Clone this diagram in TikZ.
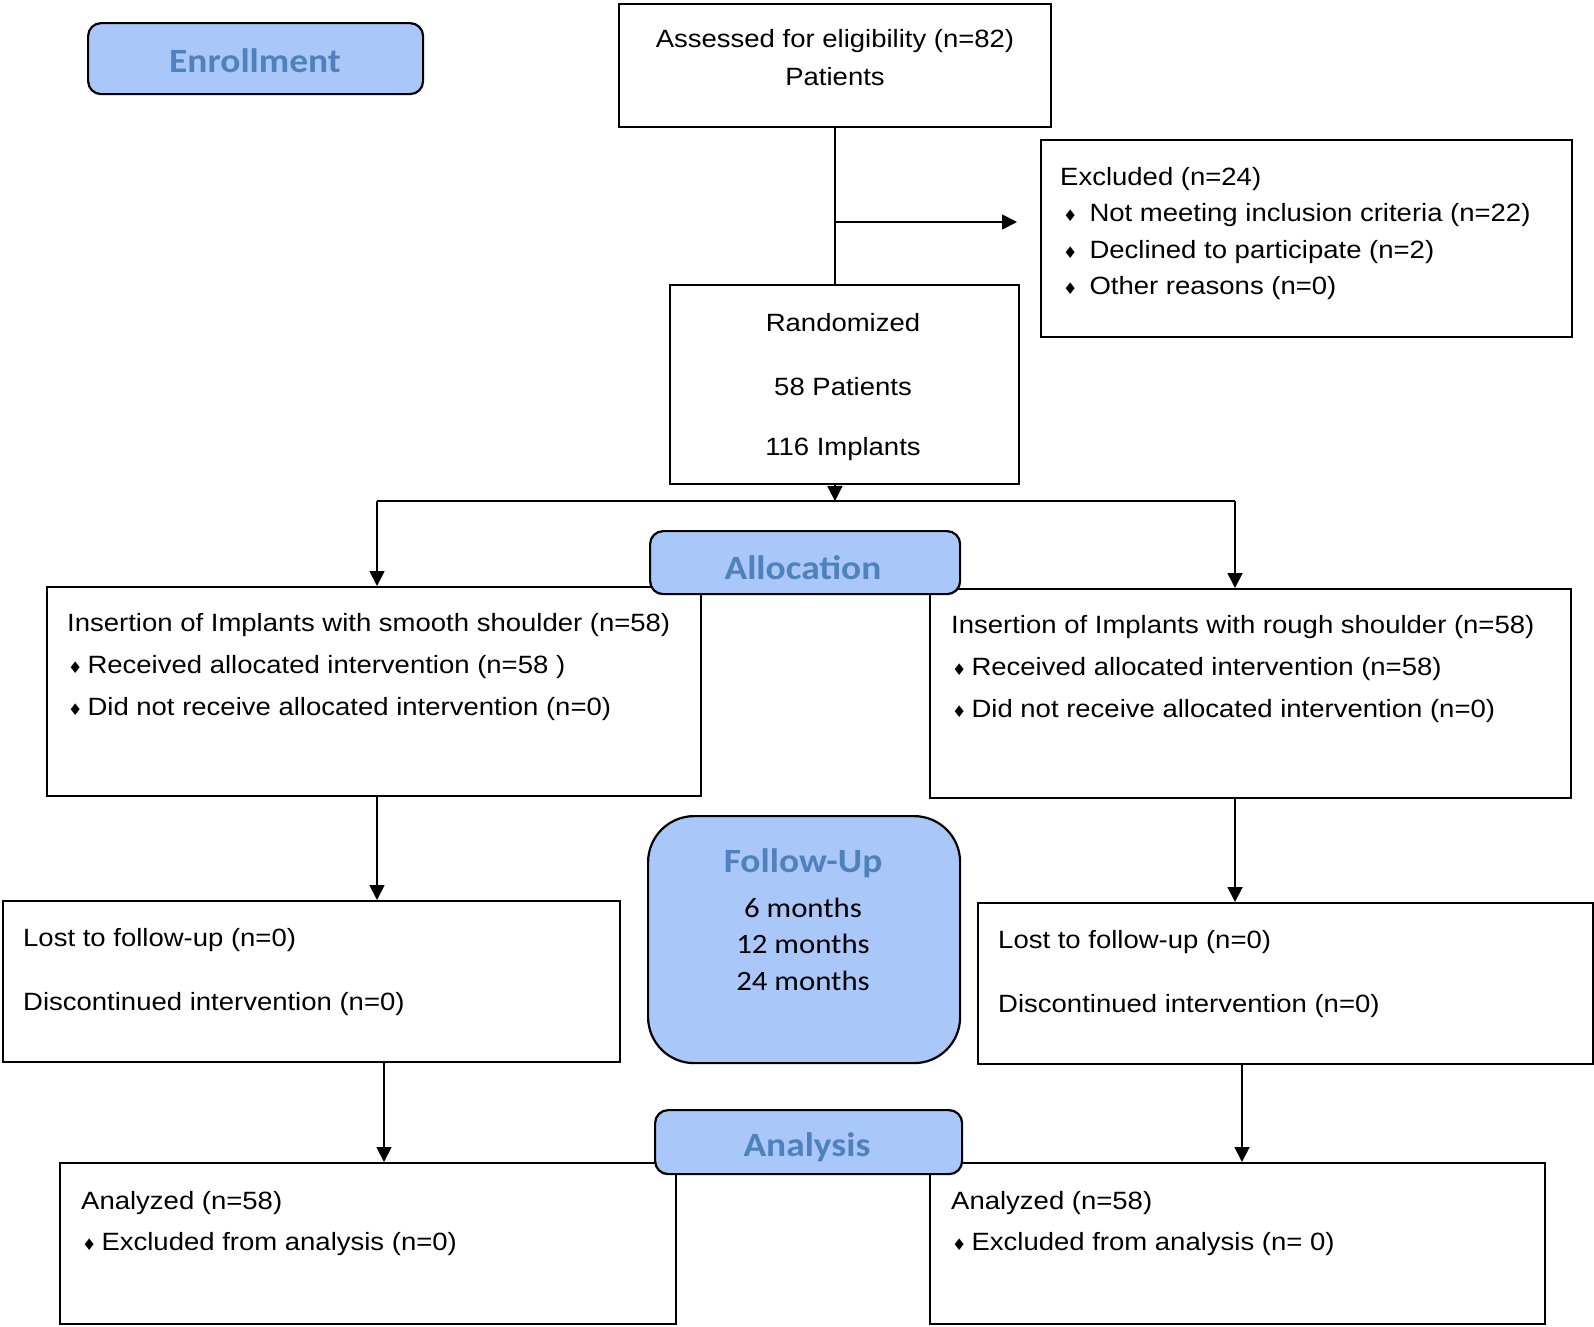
\documentclass[tikz,border=0pt]{standalone}
\usepackage{fontspec}
\setmainfont[FakeStretch=1.1]{Liberation Sans}
\newfontfamily\labfont[FakeStretch=1.1]{Carlito}
\newfontfamily\bulfont{DejaVu Sans}
\usetikzlibrary{arrows.meta}
\definecolor{labfill}{RGB}{170,199,250}
\definecolor{labtext}{RGB}{79,129,189}
\newcommand\bul{{\bulfont\fontsize{16}{16}\selectfont ♦}}
\begin{document}
\begin{tikzpicture}[x=1pt,y=-1pt,
  box/.style={draw,line width=1.8pt,anchor=north west,inner sep=0pt},
  lab/.style={draw,line width=2.2pt,fill=labfill,anchor=north west,inner sep=0pt,rounded corners=13pt},
  labt/.style={text=labtext,font=\labfont\bfseries\fontsize{34}{40}\selectfont,inner sep=0pt,yshift=-2pt},
  txt/.style={font=\fontsize{25}{30}\selectfont,inner sep=0pt,anchor=west,yshift=-3pt},
  ctxt/.style={font=\fontsize{25}{30}\selectfont,inner sep=0pt,yshift=-2pt},
  mtxt/.style={font=\labfont\fontsize{28}{34}\selectfont,inner sep=0pt,yshift=-1pt},
  conn/.style={line width=1.8pt},
  arr/.style={line width=1.8pt,-{Triangle[length=15pt,width=15pt]}}]
\useasboundingbox (0,0) rectangle (1594,1326);
% boxes
\node[box,minimum width=432pt,minimum height=123pt] (assess) at (618,3) {};
\node[box,minimum width=531pt,minimum height=197pt] (excl) at (1040,139) {};
\node[box,minimum width=349pt,minimum height=199pt] (rand) at (669,284) {};
\node[box,minimum width=654pt,minimum height=209pt] (leftA) at (46,586) {};
\node[box,minimum width=641pt,minimum height=209pt] (rightA) at (929,588) {};
\node[box,minimum width=617pt,minimum height=161pt] (lostL) at (2,900) {};
\node[box,minimum width=615pt,minimum height=161pt] (lostR) at (977,902) {};
\node[box,minimum width=616pt,minimum height=161pt] (anL) at (59,1162) {};
\node[box,minimum width=615pt,minimum height=161pt] (anR) at (929,1162) {};
% label boxes
\node[lab,minimum width=335pt,minimum height=71pt] (enr) at (87,22) {};
\node[lab,minimum width=310pt,minimum height=63pt] (alloc) at (649,530) {};
\node[lab,rounded corners=46pt,minimum width=312pt,minimum height=247pt] (fu) at (647,815) {};
\node[lab,minimum width=307pt,minimum height=64pt] (anl) at (654,1109) {};
% label texts
\node[labt] (enrt) at (255,59) {Enrollment};
\node[labt] (alloct) at (803,566) {Allocation};
\node[labt] (fut) at (803,861) {Follow-Up};
\node[mtxt] (m6) at (803,907) {6 months};
\node[mtxt] (m12) at (803,943) {12 months};
\node[mtxt] (m24) at (803,980) {24 months};
\node[labt] (anlt) at (807,1145) {Analysis};
% texts
\node[ctxt] (a1) at (835,39) {Assessed for eligibility (n=82)};
\node[ctxt] (a2) at (835,75) {Patients};
\node[txt] (e1) at (1060,176) {Excluded (n=24)};
\node[txt] (e2) at (1063,212) {\bul\hspace{12pt}Not meeting inclusion criteria (n=22)};
\node[txt] (e3) at (1063,249) {\bul\hspace{12pt}Declined to participate (n=2)};
\node[txt] (e4) at (1063,285) {\bul\hspace{12pt}Other reasons (n=0)};
\node[ctxt] (r1) at (843,321) {Randomized};
\node[ctxt] (r2) at (843,385) {58 Patients};
\node[ctxt] (r3) at (843,447) {116 Implants};
\node[txt] (l1) at (67,622) {Insertion of Implants with smooth shoulder (n=58)};
\node[txt] (l2) at (68,664) {\bul\hspace{5pt}Received allocated intervention (n=58 )};
\node[txt] (l3) at (68,706) {\bul\hspace{5pt}Did not receive allocated intervention (n=0)};
\node[txt] (g1) at (951,624) {Insertion of Implants with rough shoulder (n=58)};
\node[txt] (g2) at (952,666) {\bul\hspace{5pt}Received allocated intervention (n=58)};
\node[txt] (g3) at (952,708) {\bul\hspace{5pt}Did not receive allocated intervention (n=0)};
\node[txt] (p1) at (23,937) {Lost to follow-up (n=0)};
\node[txt] (p2) at (23,1001) {Discontinued intervention (n=0)};
\node[txt] (q1) at (998,939) {Lost to follow-up (n=0)};
\node[txt] (q2) at (998,1003) {Discontinued intervention (n=0)};
\node[txt] (n1) at (81,1200) {Analyzed (n=58)};
\node[txt] (n2) at (82,1241) {\bul\hspace{5pt}Excluded from analysis (n=0)};
\node[txt] (o1) at (951,1200) {Analyzed (n=58)};
\node[txt] (o2) at (952,1241) {\bul\hspace{5pt}Excluded from analysis (n= 0)};
% connectors
\coordinate (exarr) at (1017,222);
\coordinate (split) at (835,501);
\coordinate (sl) at (377,501);
\coordinate (sr) at (1235,501);
\coordinate (dl) at (384,1061);
\coordinate (dr) at (1242,1063);
\draw[conn] (assess.south) -- (assess.south |- rand.north);
\draw[arr] (assess.south |- exarr) -- (exarr);
\draw[arr] (assess.south |- rand.south) -- (split);
\draw[conn] (sl) -- (sr);
\draw[arr] (sl) -- (sl |- leftA.north);
\draw[arr] (sr) -- (sr |- rightA.north);
\draw[arr] (sl |- leftA.south) -- (sl |- lostL.north);
\draw[arr] (sr |- rightA.south) -- (sr |- lostR.north);
\draw[arr] (dl) -- (dl |- anL.north);
\draw[arr] (dr) -- (dr |- anR.north);
\end{tikzpicture}
\end{document}
